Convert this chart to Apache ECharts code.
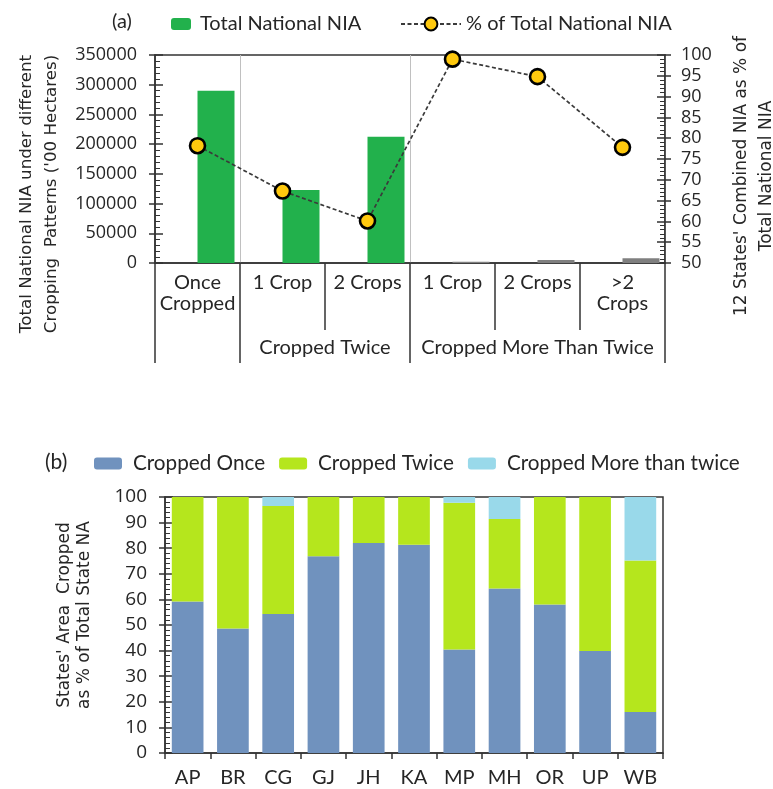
<!DOCTYPE html>
<html>
<head>
<meta charset="utf-8">
<script src="https://cdn.jsdelivr.net/npm/echarts@6/dist/echarts.min.js"></script>
<style>
html,body{margin:0;padding:0;background:#fff;}
#c{width:773px;height:789px;}
</style>
</head>
<body>
<div id="c"></div>
<script>
// ---- Data (a) ----
const patternLabels = ['Once\nCropped', '1 Crop', '2 Crops', '1 Crop', '2 Crops', '>2\nCrops'];
const groupLabels = ['', 'Cropped Twice', 'Cropped More Than Twice'];
const groupSizes = [1, 2, 3];
const totalNationalNIA = [290000, 123000, 212500, 2200, 5000, 7900];
const pctOfNationalNIA = [78.2, 67.3, 60.1, 99.0, 94.8, 77.8];
const leftTicks = {min: 0, max: 350000, interval: 50000};
const rightTicks = {min: 50, max: 100, interval: 5};

// ---- Data (b) ----
const states = ['AP', 'BR', 'CG', 'GJ', 'JH', 'KA', 'MP', 'MH', 'OR', 'UP', 'WB'];
const croppedOnce = [59.2, 48.6, 54.3, 76.9, 82.0, 81.3, 40.4, 64.3, 58.0, 39.8, 16.0];
const croppedTwice = [40.8, 51.4, 42.2, 23.1, 18.0, 18.7, 57.4, 27.1, 42.0, 60.2, 59.2];
const croppedMore = [0, 0, 3.5, 0, 0, 0, 2.2, 8.6, 0, 0, 24.8];
const pctTicks = {min: 0, max: 100, interval: 10};

// group boundaries and label centres derived from group sizes
const bounds = [0];
groupSizes.forEach(s => bounds.push(bounds[bounds.length - 1] + s));
const groupCentres = [];
const groupNameAt = {};
groupSizes.forEach((s, i) => {
  if (groupLabels[i]) {
    const c = bounds[i] + s / 2;
    groupCentres.push(c);
    groupNameAt[c.toFixed(2)] = groupLabels[i];
  }
});

const F = 'Lato, "Open Sans", sans-serif';
const NF = '"Open Sans", "Noto Sans", sans-serif';
const TF = '"DejaVu Sans", Verdana, sans-serif';
const TXT = '#262626';
const AX = '#333333';

const GREEN = '#22B14C', GRAY = '#7F7F7F';
const BLUE = '#7092BE', LIME = '#B5E61D', LBLUE = '#99D9EA';

const chart = echarts.init(document.getElementById('c'), null, {renderer: 'canvas'});

const plain = (v) => String(v);

// extra tick-only axis giving the outward half of the crossing major ticks
function outTicks(gridIndex, position, t) {
  return {
    gridIndex, type: 'value', position, min: t.min, max: t.max, interval: t.interval,
    axisLine: {show: false, onZero: false}, axisLabel: {show: false}, splitLine: {show: false},
    axisTick: {show: true, inside: false, length: 6, lineStyle: {color: AX, width: 1.5}}
  };
}

const option = {
  animation: false,
  backgroundColor: '#fff',
  textStyle: {fontFamily: F, color: TXT},
  title: [
    {text: '(a)', left: 112, top: 12, padding: 0, textStyle: {fontFamily: F, fontSize: 20, fontWeight: 'normal', color: TXT}},
    {text: '(b)', left: 45, top: 452, padding: 0, textStyle: {fontFamily: F, fontSize: 21, fontWeight: 'normal', color: TXT}}
  ],
  legend: [
    {
      data: ['Total National NIA'], left: 171, top: 14, padding: 0, itemWidth: 20, itemHeight: 12,
      textStyle: {fontFamily: F, fontSize: 20, color: TXT, padding: [0, 0, 0, 4]}
    },
    {
      data: ['% of Total National NIA'], left: 400, top: 14, padding: 0, itemWidth: 60, itemHeight: 16,
      textStyle: {fontFamily: F, fontSize: 20, color: TXT}
    },
    {
      data: ['Cropped Once', 'Cropped Twice', 'Cropped More than twice'],
      left: 94, top: 453, padding: 0, itemWidth: 28, itemHeight: 12, itemGap: 14,
      textStyle: {fontFamily: F, fontSize: 20.7, color: TXT, padding: [0, 0, 0, 6]}
    }
  ],
  grid: [
    {left: 155, right: 108, top: 55, bottom: 526, show: true, borderColor: AX, borderWidth: 1.5, outerBoundsMode: 'none', containLabel: false},
    {left: 165, right: 110, top: 497, bottom: 36, show: true, borderColor: AX, borderWidth: 1.5, outerBoundsMode: 'none', containLabel: false}
  ],
  xAxis: [
    {
      gridIndex: 0, type: 'category', data: patternLabels, boundaryGap: true, position: 'bottom',
      axisLine: {onZero: false, lineStyle: {color: AX, width: 1.5}},
      axisTick: {show: true, length: 67, interval: 0, lineStyle: {color: AX, width: 1.5}},
      axisLabel: {interval: 0, margin: 9, fontFamily: F, fontSize: 20, lineHeight: 21, color: TXT},
      splitLine: {show: true, interval: (i) => bounds.indexOf(i) > 0 && i < patternLabels.length, lineStyle: {color: '#c0c0c0', width: 1}}
    },
    {
      gridIndex: 0, type: 'value', min: 0, max: patternLabels.length, position: 'bottom', offset: 67,
      axisLine: {show: false, onZero: false},
      axisTick: {show: true, customValues: bounds, length: 33, lineStyle: {color: AX, width: 1.5}},
      axisLabel: {
        show: true, customValues: groupCentres, margin: 8, fontFamily: F, fontSize: 20, color: TXT,
        formatter: (v) => groupNameAt[Number(v).toFixed(2)] || ''
      },
      splitLine: {show: false}
    },
    {
      gridIndex: 1, type: 'category', data: states, boundaryGap: true, position: 'bottom',
      axisLine: {onZero: false, lineStyle: {color: AX, width: 1.5}},
      axisTick: {show: true, length: 6, interval: 0, lineStyle: {color: AX, width: 1.5}},
      axisLabel: {interval: 0, margin: 15, fontFamily: F, fontSize: 20, color: TXT},
      splitLine: {show: false}
    }
  ],
  yAxis: [
    {
      gridIndex: 0, type: 'value', position: 'left', min: leftTicks.min, max: leftTicks.max, interval: leftTicks.interval,
      name: 'Total National NIA under different\nCropping  Patterns (\'00 Hectares)',
      nameLocation: 'middle', nameRotate: 90, nameGap: 80,
      nameTextStyle: {fontFamily: TF, fontSize: 16.7, lineHeight: 25, color: TXT, padding: [0, 70, 0, 0]},
      axisLine: {show: true, onZero: false, lineStyle: {color: AX, width: 1.5}},
      axisTick: {show: true, inside: true, length: 8, lineStyle: {color: AX, width: 1.5}},
      minorTick: {show: true, splitNumber: 5, length: 5, lineStyle: {color: AX, width: 1}},
      axisLabel: {margin: 18, fontFamily: NF, fontSize: 18, color: TXT, formatter: plain},
      splitLine: {show: false}
    },
    {
      gridIndex: 0, type: 'value', position: 'right', min: rightTicks.min, max: rightTicks.max, interval: rightTicks.interval,
      name: '12 States\' Combined NIA as % of\nTotal National NIA',
      nameLocation: 'middle', nameRotate: 90, nameGap: 64,
      nameTextStyle: {fontFamily: TF, fontSize: 17, lineHeight: 25, color: TXT, padding: [0, 34, 0, 0]},
      axisLine: {show: true, onZero: false, lineStyle: {color: AX, width: 1.5}},
      axisTick: {show: true, inside: true, length: 8, lineStyle: {color: AX, width: 1.5}},
      minorTick: {show: true, splitNumber: 5, length: 5, lineStyle: {color: AX, width: 1}},
      axisLabel: {margin: 16, fontFamily: NF, fontSize: 18, color: TXT, formatter: plain},
      splitLine: {show: false}
    },
    {
      gridIndex: 1, type: 'value', position: 'left', min: pctTicks.min, max: pctTicks.max, interval: pctTicks.interval,
      name: 'States\' Area  Cropped\nas % of Total State NA',
      nameLocation: 'middle', nameRotate: 90, nameGap: 70,
      nameTextStyle: {fontFamily: TF, fontSize: 17, lineHeight: 20, color: TXT, padding: [0, 0, 0, 20]},
      axisLine: {show: true, onZero: false, lineStyle: {color: AX, width: 1.5}},
      axisTick: {show: true, inside: true, length: 8, lineStyle: {color: AX, width: 1.5}},
      minorTick: {show: true, splitNumber: 5, length: 5, lineStyle: {color: AX, width: 1}},
      axisLabel: {margin: 18, fontFamily: NF, fontSize: 19, color: TXT, formatter: plain},
      splitLine: {show: false}
    },
    outTicks(0, 'left', leftTicks),
    outTicks(0, 'right', rightTicks),
    outTicks(1, 'left', pctTicks)
  ],
  series: [
    {
      name: '_spacer', type: 'bar', xAxisIndex: 0, yAxisIndex: 0,
      data: patternLabels.map(() => '-'), barWidth: 37, barGap: '0%', silent: true
    },
    {
      name: 'Total National NIA', type: 'bar', xAxisIndex: 0, yAxisIndex: 0,
      barWidth: 37, barGap: '0%', itemStyle: {color: GREEN},
      data: totalNationalNIA.map((v, i) => ({value: v, itemStyle: {color: i < bounds[2] ? GREEN : GRAY}}))
    },
    {
      name: '% of Total National NIA', type: 'line', xAxisIndex: 0, yAxisIndex: 1,
      data: pctOfNationalNIA, z: 5,
      symbol: 'circle', symbolSize: 15,
      lineStyle: {color: '#3a3a3a', width: 1.7, type: [4, 2.5]},
      itemStyle: {color: '#FFC90E', borderColor: '#000', borderWidth: 2.6}
    },
    {
      name: 'Cropped Once', type: 'bar', stack: 'b', xAxisIndex: 2, yAxisIndex: 2,
      data: croppedOnce, barCategoryGap: '30%', itemStyle: {color: BLUE}
    },
    {
      name: 'Cropped Twice', type: 'bar', stack: 'b', xAxisIndex: 2, yAxisIndex: 2,
      data: croppedTwice, barCategoryGap: '30%', itemStyle: {color: LIME}
    },
    {
      name: 'Cropped More than twice', type: 'bar', stack: 'b', xAxisIndex: 2, yAxisIndex: 2,
      data: croppedMore, barCategoryGap: '30%', itemStyle: {color: LBLUE}
    }
  ]
};
chart.setOption(option);
</script>
</body>
</html>
